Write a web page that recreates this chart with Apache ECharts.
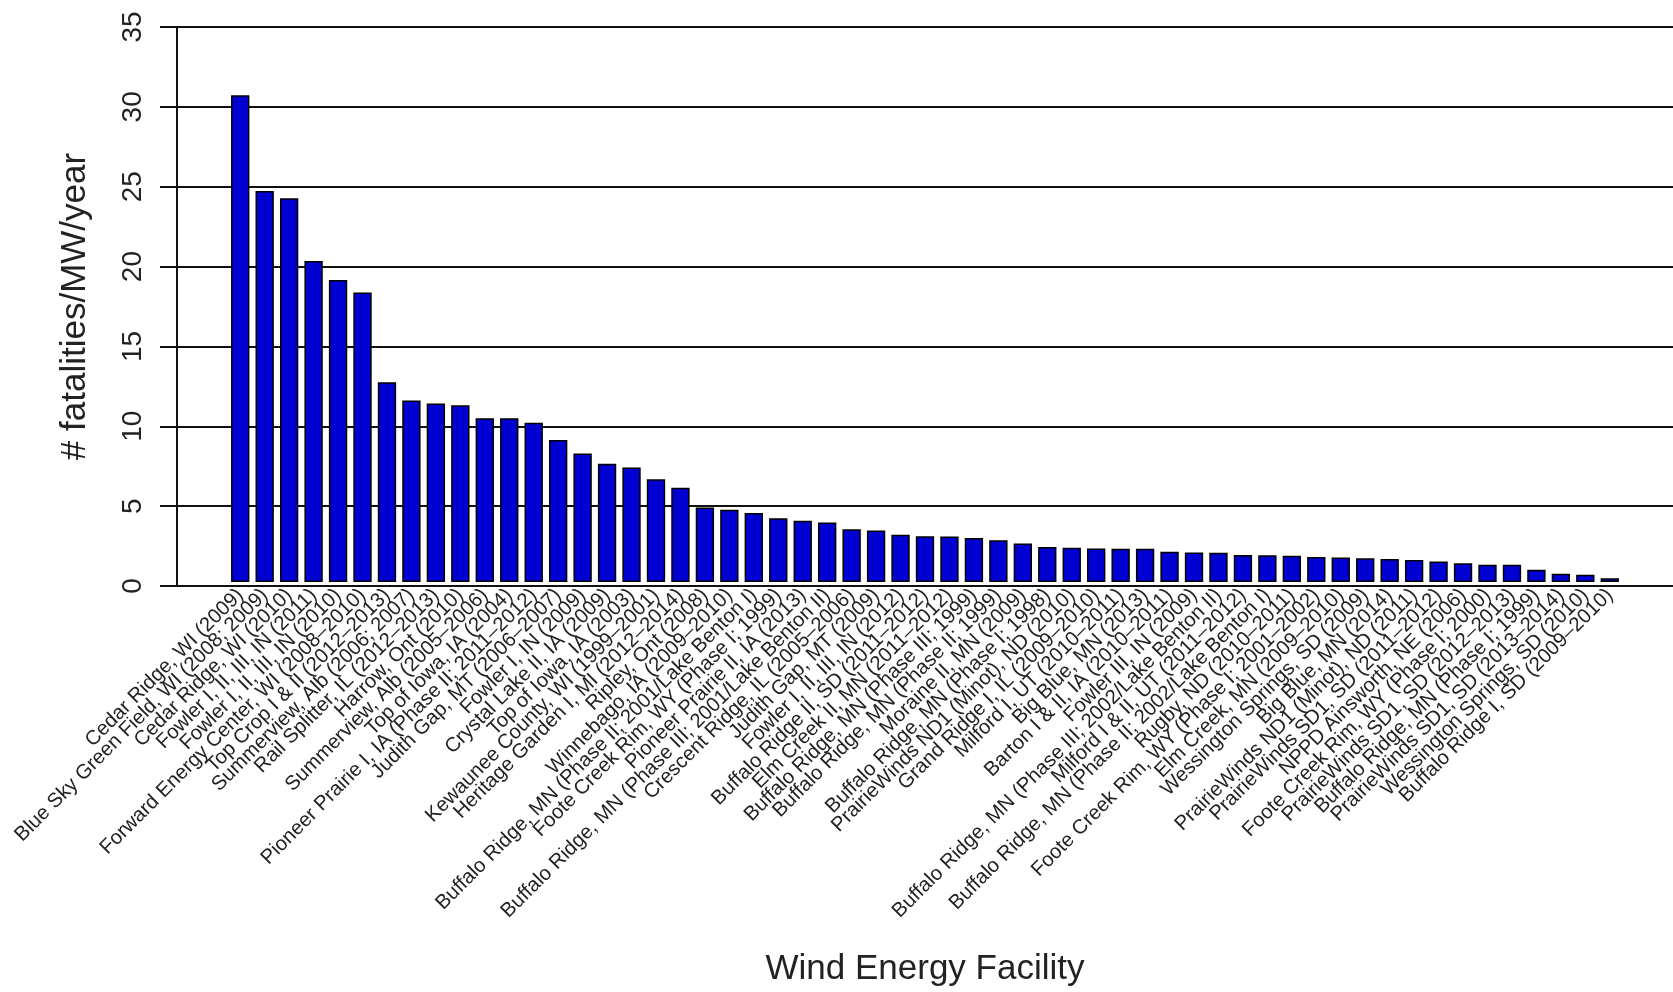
<!DOCTYPE html>
<html>
<head>
<meta charset="utf-8">
<script src="https://cdn.jsdelivr.net/npm/echarts@6/dist/echarts.min.js"></script>
<style>
html,body{margin:0;padding:0;background:#fff;}
#chart{width:1673px;height:992px;}
</style>
</head>
<body>
<div id="chart"></div>
<script>
const facilities = [
  "Cedar Ridge, WI (2009)",
  "Blue Sky Green Field, WI (2008; 2009)",
  "Cedar Ridge, WI (2010)",
  "Fowler I, II, III, IN (2011)",
  "Fowler I, II, III, IN (2010)",
  "Forward Energy Center, WI (2008–2010)",
  "Top Crop I & II (2012–2013)",
  "Summerview, Alb (2006; 2007)",
  "Rail Splitter, IL (2012–2013)",
  "Harrow, Ont (2010)",
  "Summerview, Alb (2005–2006)",
  "Top of Iowa, IA (2004)",
  "Pioneer Prairie I, IA (Phase II; 2011–2012)",
  "Judith Gap, MT (2006–2007)",
  "Fowler I, IN (2009)",
  "Crystal Lake II, IA (2009)",
  "Top of Iowa, IA (2003)",
  "Kewaunee County, WI (1999–2001)",
  "Heritage Garden I, MI (2012–2014)",
  "Ripley, Ont (2008)",
  "Winnebago, IA (2009–2010)",
  "Buffalo Ridge, MN (Phase II; 2001/Lake Benton I)",
  "Foote Creek Rim, WY (Phase I; 1999)",
  "Pioneer Prairie II, IA (2013)",
  "Buffalo Ridge, MN (Phase III; 2001/Lake Benton II)",
  "Crescent Ridge, IL (2005–2006)",
  "Judith Gap, MT (2009)",
  "Fowler I, II, III, IN (2012)",
  "Buffalo Ridge II, SD (2011–2012)",
  "Elm Creek II, MN (2011–2012)",
  "Buffalo Ridge, MN (Phase III; 1999)",
  "Buffalo Ridge, MN (Phase II; 1999)",
  "Moraine II, MN (2009)",
  "Buffalo Ridge, MN (Phase I; 1998)",
  "PrairieWinds ND1 (Minot), ND (2010)",
  "Grand Ridge I, IL (2009–2010)",
  "Milford I, UT (2010–2011)",
  "Big Blue, MN (2013)",
  "Barton I & II, IA (2010–2011)",
  "Fowler III, IN (2009)",
  "Buffalo Ridge, MN (Phase III; 2002/Lake Benton II)",
  "Milford I & II, UT (2011–2012)",
  "Buffalo Ridge, MN (Phase II; 2002/Lake Benton I)",
  "Rugby, ND (2010–2011)",
  "Foote Creek Rim, WY (Phase I; 2001–2002)",
  "Elm Creek, MN (2009–2010)",
  "Wessington Springs, SD (2009)",
  "Big Blue, MN (2014)",
  "PrairieWinds ND1 (Minot), ND (2011)",
  "PrairieWinds SD1, SD (2011–2012)",
  "NPPD Ainsworth, NE (2006)",
  "Foote Creek Rim, WY (Phase I; 2000)",
  "PrairieWinds SD1, SD (2012–2013)",
  "Buffalo Ridge, MN (Phase I; 1999)",
  "PrairieWinds SD1, SD (2013–2014)",
  "Wessington Springs, SD (2010)",
  "Buffalo Ridge I, SD (2009–2010)"
];

const fatalities = [
  30.7, 24.65, 24.2, 20.25, 19.05, 18.25, 12.6, 11.45, 11.25, 11.15,
  10.33, 10.33, 10.05, 8.95, 8.1, 7.45, 7.22, 6.48, 5.95, 4.7,
  4.55, 4.35, 4.02, 3.87, 3.75, 3.33, 3.25, 2.98, 2.88, 2.87,
  2.77, 2.63, 2.43, 2.2, 2.16, 2.12, 2.1, 2.1, 1.91, 1.86,
  1.85, 1.71, 1.69, 1.65, 1.57, 1.55, 1.49, 1.45, 1.39, 1.29,
  1.18, 1.08, 1.08, 0.77, 0.52, 0.46, 0.23
];

const yMin = 0, yMax = 35, yStep = 5;
const xTitle = "Wind Energy Facility";
const yTitle = "# fatalities/MW/year";

const FONT = '"Liberation Sans", Arial, Helvetica, sans-serif';
const chart = echarts.init(document.getElementById('chart'), null, {renderer: 'canvas'});

chart.setOption({
  animation: false,
  backgroundColor: '#ffffff',
  textStyle: {fontFamily: FONT},
  grid: [
    {left: 177, right: 0, top: 27, bottom: 406, containLabel: false},
    {left: 228, right: 51, top: 27, bottom: 406, containLabel: false}
  ],
  xAxis: [
    {type: 'value', gridIndex: 0, show: false, min: 0, max: 1},
    {
      type: 'category', gridIndex: 1, data: facilities,
      axisLine: {show: false}, axisTick: {show: false},
      axisLabel: {
        interval: 0, rotate: 45, margin: 10, fontSize: 20.3,
        color: '#222', fontFamily: FONT
      },
      name: xTitle, nameLocation: 'middle', nameGap: 370,
      nameTextStyle: {fontSize: 35, color: '#222', fontFamily: FONT}
    }
  ],
  yAxis: [
    {
      type: 'value', gridIndex: 0, min: yMin, max: yMax, interval: yStep,
      axisLine: {show: true, lineStyle: {color: '#111', width: 2}},
      axisTick: {show: true, length: 17, lineStyle: {color: '#111', width: 2}},
      axisLabel: {rotate: 90, margin: 30, fontSize: 28, color: '#222', fontFamily: FONT},
      splitLine: {show: true, lineStyle: {color: '#111', width: 2}},
      name: yTitle, nameLocation: 'middle', nameRotate: 90, nameGap: 84,
      nameTextStyle: {fontSize: 35, color: '#222', fontFamily: FONT}
    },
    {type: 'value', gridIndex: 1, min: yMin, max: yMax, interval: yStep, show: false, splitLine: {show: false}}
  ],
  series: [{
    type: 'bar', xAxisIndex: 1, yAxisIndex: 1,
    data: fatalities,
    barCategoryGap: '25%',
    itemStyle: {color: '#0000d2', borderColor: '#000', borderWidth: 1.5}
  }]
});
</script>
</body>
</html>
